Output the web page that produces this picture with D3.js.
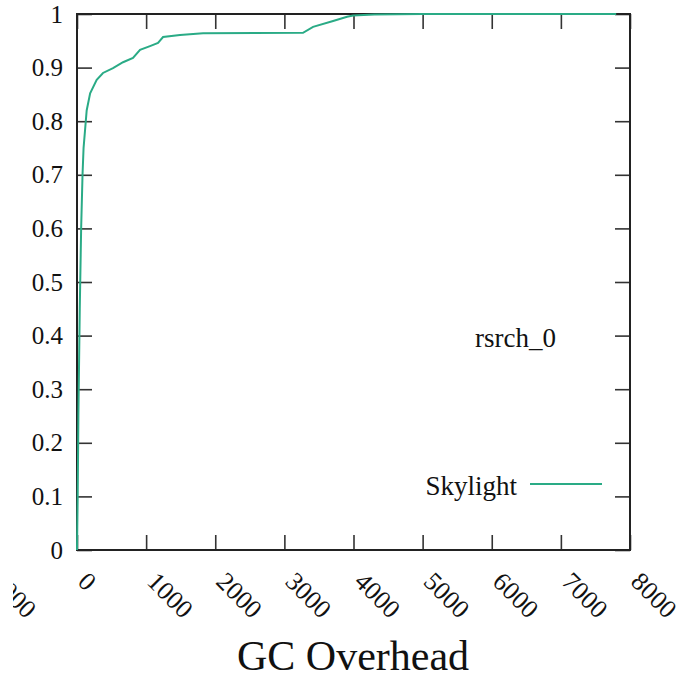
<!DOCTYPE html>
<html>
<head>
<meta charset="utf-8">
<script src="https://cdnjs.cloudflare.com/ajax/libs/d3/7.8.5/d3.min.js"></script>
<style>
    body { margin: 0; background: #fff; }
    svg text { font-family: "Liberation Serif", "Times New Roman", serif; fill: #111; }
</style>
</head>
<body>
<div id="chart"></div>
<script>
// CDF of GC overhead (rsrch_0 trace)
var gcOverhead = [0, 10, 20, 40, 60, 80, 95, 140, 190, 285, 376, 521, 666, 810, 912, 1056, 1172, 1245, 1490, 1823, 3270, 3415, 3705, 3907, 3994, 4300, 5000, 7800];
var cdf = [0, 0.1, 0.25, 0.45, 0.6, 0.7, 0.75, 0.82, 0.852, 0.877, 0.89, 0.899, 0.91, 0.918, 0.933, 0.94, 0.946, 0.957, 0.961, 0.964, 0.965, 0.976, 0.987, 0.995, 0.997, 0.999, 1, 1];

var xTicks = [0, 1000, 2000, 3000, 4000, 5000, 6000, 7000, 8000];
var yTicks = [0, 0.1, 0.2, 0.3, 0.4, 0.5, 0.6, 0.7, 0.8, 0.9, 1];
var seriesName = "Skylight";
var traceName = "rsrch_0";
var xTitle = "GC Overhead";
// leftover tick label of the neighbouring panel, cut at the crop edge
var neighbourLabel = "8000";

var svgWidth = 687;
var svgHeight = 678;

var margin = { top: 14, right: 57, bottom: 128, left: 77 };
var width = svgWidth - margin.left - margin.right;
var height = svgHeight - margin.top - margin.bottom;

var svg = d3.select("#chart")
    .append("svg")
    .attr("width", svgWidth)
    .attr("height", svgHeight);

var chartGroup = svg.append("g")
    .attr("transform", `translate(${margin.left}, ${margin.top})`);

var xScale = d3.scaleLinear().domain([0, 8000]).range([0, width]);
var yScale = d3.scaleLinear().domain([0, 1]).range([height, 0]);

var tickLen = 15;

// bottom axis with rotated labels
var bottomAxis = d3.axisBottom(xScale).tickValues(xTicks).tickSize(-tickLen).tickSizeOuter(0)
    .tickFormat(d3.format("d"));
var xAxisG = chartGroup.append("g")
    .attr("transform", `translate(0, ${height})`)
    .call(bottomAxis);

var leftAxis = d3.axisLeft(yScale).tickValues(yTicks).tickSize(-tickLen).tickSizeOuter(0).tickPadding(14)
    .tickFormat(d3.format("~g"));
var yAxisG = chartGroup.append("g").call(leftAxis);

// mirrored ticks on top and right
chartGroup.append("g")
    .call(d3.axisTop(xScale).tickValues(xTicks).tickSize(-tickLen).tickSizeOuter(0).tickFormat(""));
chartGroup.append("g")
    .attr("transform", `translate(${width}, 0)`)
    .call(d3.axisRight(yScale).tickValues(yTicks).tickSize(-tickLen).tickSizeOuter(0).tickFormat(""));

// gnuplot-ish look
chartGroup.selectAll("g").attr("font-family", null).attr("font-size", null);
chartGroup.selectAll(".tick line").attr("stroke", "#333").attr("stroke-width", 1.6);
chartGroup.selectAll(".domain").attr("stroke", "none");
chartGroup.selectAll(".tick text").attr("fill", "#111").style("font-size", "25px");

xAxisG.selectAll("text")
    .attr("x", 0).attr("y", 0).attr("dy", 0)
    .style("text-anchor", "start")
    .style("font-size", "26px")
    .attr("transform", "translate(-1, 33) rotate(45)");

// frame
chartGroup.append("rect")
    .attr("width", width)
    .attr("height", height)
    .attr("fill", "none")
    .attr("stroke", "#222")
    .attr("stroke-width", 2);

// the CDF line
var points = gcOverhead.map((x, i) => [x, cdf[i]]);
var line = d3.line()
    .x(d => xScale(d[0]))
    .y(d => yScale(d[1]));

chartGroup.append("path")
    .datum(points)
    .attr("fill", "none")
    .attr("stroke", "#2aab86")
    .attr("stroke-width", 2)
    .attr("d", line);

// trace name
chartGroup.append("text")
    .attr("x", 398)
    .attr("y", 333)
    .style("font-size", "27px")
    .text(traceName);

// legend
chartGroup.append("text")
    .attr("x", 440)
    .attr("y", 481)
    .attr("text-anchor", "end")
    .style("font-size", "27px")
    .text(seriesName);

chartGroup.append("line")
    .attr("x1", 453).attr("x2", 525)
    .attr("y1", 470).attr("y2", 470)
    .attr("stroke", "#2aab86")
    .attr("stroke-width", 2);

// x axis title
svg.append("text")
    .attr("x", 353)
    .attr("y", 670)
    .attr("text-anchor", "middle")
    .style("font-size", "42px")
    .text(xTitle);

// neighbour panel's label, clipped where the crop starts
svg.append("clipPath")
    .attr("id", "cropClip")
    .append("rect")
    .attr("x", 13).attr("y", 0)
    .attr("width", 60).attr("height", svgHeight);

svg.append("g")
    .attr("clip-path", "url(#cropClip)")
    .append("text")
    .attr("transform", "translate(-11, 583) rotate(45)")
    .style("font-size", "26px")
    .text(neighbourLabel);
</script>
</body>
</html>
